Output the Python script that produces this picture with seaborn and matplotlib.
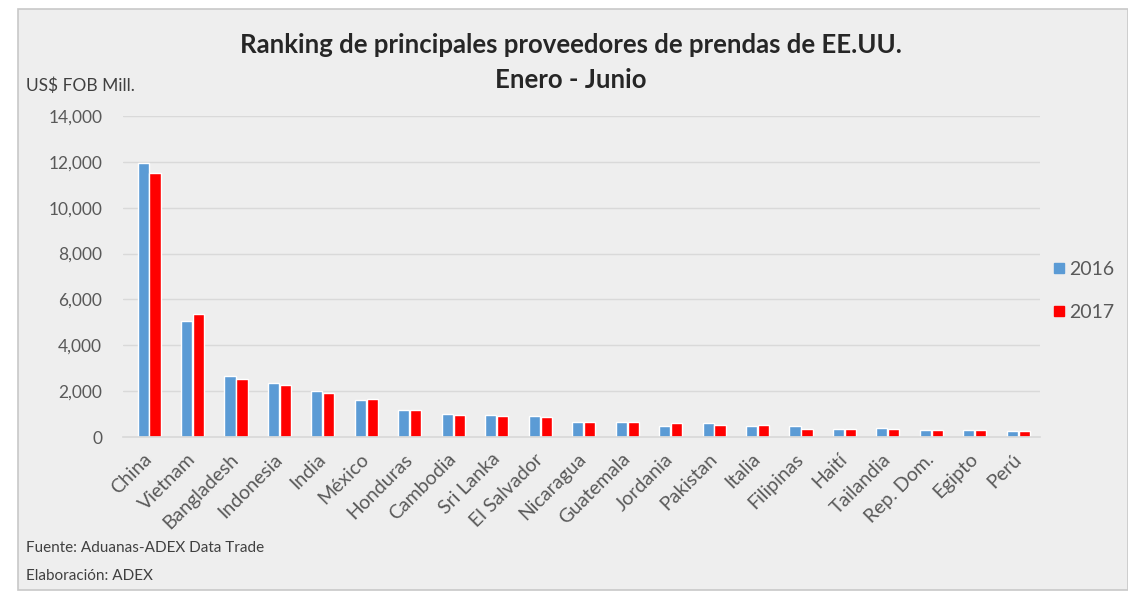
import matplotlib
matplotlib.use("Agg")
import matplotlib.pyplot as plt
import matplotlib.patches as mpatches
from matplotlib.lines import Line2D
import seaborn as sns
import pandas as pd

# Principales proveedores de prendas de EE.UU., enero-junio (US$ FOB millones)
paises = ["China", "Vietnam", "Bangladesh", "Indonesia", "India", "México",
          "Honduras", "Cambodia", "Sri Lanka", "El Salvador", "Nicaragua",
          "Guatemala", "Jordania", "Pakistan", "Italia", "Filipinas", "Haití",
          "Tailandia", "Rep. Dom.", "Egipto", "Perú"]
valores_2016 = [11960, 5070, 2670, 2370, 2020, 1610, 1170, 990, 975, 930,
                655, 665, 480, 610, 495, 465, 350, 410, 320, 320, 280]
valores_2017 = [11500, 5360, 2540, 2250, 1930, 1670, 1170, 960, 930, 875,
                665, 640, 595, 540, 510, 350, 350, 350, 320, 320, 280]
anios = ["2016", "2017"]
colores = ["#5B9BD5", "#FF0000"]

df = pd.DataFrame({
    "pais": paises * 2,
    "valor": valores_2016 + valores_2017,
    "anio": [anios[0]] * len(paises) + [anios[1]] * len(paises),
})

sns.set_theme(style="white")
plt.rcParams["font.family"] = ["Lato", "DejaVu Sans"]

bg = "#EEEEEE"
txt = "#404040"
fig = plt.figure(figsize=(11.28, 5.99), dpi=100, facecolor="white")

# Marco del gráfico
fig.patches.append(mpatches.Rectangle(
    (18 / 1128, 9 / 599), 1 - 18 / 1128, 1 - 18 / 599,
    transform=fig.transFigure, facecolor=bg, edgecolor="#C8C8C8",
    linewidth=1.2, zorder=-5))

ax = fig.add_axes([123 / 1128, 1 - 437 / 599, (1040 - 123) / 1128, (437 - 116) / 599])
ax.set_facecolor(bg)

sns.barplot(data=df, x="pais", y="valor", hue="anio", palette=colores,
            width=0.55, gap=0.07, ax=ax, legend=False, saturation=1)

ax.set_ylim(0, 14000)
ax.set_xlim(-0.6, 20.5)
ax.set_yticks(range(0, 14001, 2000))
ax.set_yticklabels([f"{v:,}" for v in range(0, 14001, 2000)], fontsize=12.5, color="#595959")
ax.grid(axis="y", color="#D9D9D9", linewidth=1)
ax.set_axisbelow(True)
for s in ["top", "right", "left"]:
    ax.spines[s].set_visible(False)
ax.spines["bottom"].set_color("#D9D9D9")
ax.tick_params(axis="y", length=0, pad=15)
ax.tick_params(axis="x", length=0, pad=14)
ax.set_xticks(range(len(paises)))
ax.set_xticklabels(paises, rotation=45, ha="right", va="center",
                   rotation_mode="anchor", fontsize=14, color="#595959")
ax.set_xlabel("")
ax.set_ylabel("")

fig.text(571 / 1128, 1 - 45 / 599, "Ranking de principales proveedores de prendas de EE.UU.",
         ha="center", va="center", fontsize=18.5, fontweight="bold", color="#262626")
fig.text(571 / 1128, 1 - 80 / 599, "Enero - Junio",
         ha="center", va="center", fontsize=18.5, fontweight="bold", color="#262626")
fig.text(26 / 1128, 1 - 86 / 599, "US$ FOB Mill.", ha="left", va="center",
         fontsize=12.5, color="#404040")

fig.text(26 / 1128, 1 - 548 / 599, "Fuente: Aduanas-ADEX Data Trade", ha="left",
         va="center", fontsize=11, color=txt)
fig.text(26 / 1128, 1 - 576 / 599, "Elaboración: ADEX", ha="left",
         va="center", fontsize=11, color=txt)

handles = [Line2D([], [], marker="s", linestyle="none", markersize=6.5,
                  markerfacecolor=c, markeredgecolor=c) for c in colores]
fig.legend(handles, anios, loc="center left", bbox_to_anchor=(1034 / 1128, 1 - 291 / 599),
           frameon=False, fontsize=14, handletextpad=0.1, labelspacing=1.35,
           labelcolor="#595959", handlelength=0.8)

fig.savefig("out.png", dpi=100, facecolor="white")
